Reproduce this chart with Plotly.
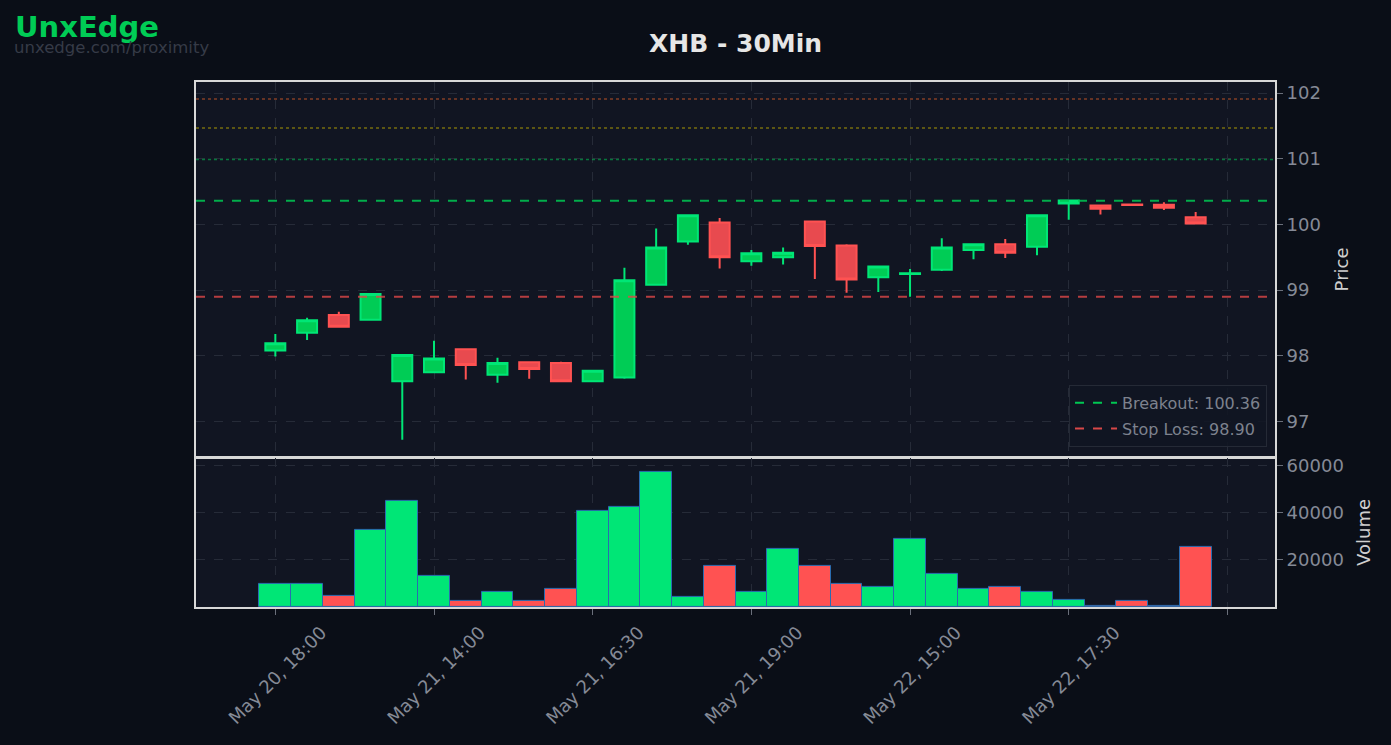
import plotly.graph_objects as go

# ---------------- data ----------------
TIMES = [
    "May 20, 18:00", "May 20, 18:30", "May 20, 19:00", "May 20, 19:30",
    "May 21, 13:30", "May 21, 14:00", "May 21, 14:30", "May 21, 15:00",
    "May 21, 15:30", "May 21, 16:00", "May 21, 16:30", "May 21, 17:00",
    "May 21, 17:30", "May 21, 18:00", "May 21, 18:30", "May 21, 19:00",
    "May 21, 19:30", "May 22, 13:30", "May 22, 14:00", "May 22, 14:30",
    "May 22, 15:00", "May 22, 15:30", "May 22, 16:00", "May 22, 16:30",
    "May 22, 17:00", "May 22, 17:30", "May 22, 18:00", "May 22, 18:30",
    "May 22, 19:00", "May 22, 19:30",
]
OPEN = [98.08, 98.35, 98.62, 98.55, 97.61, 97.75, 98.10, 97.71, 97.90, 97.89,
        97.61, 97.67, 99.08, 99.74, 100.03, 99.44, 99.50, 100.045, 99.68, 99.195,
        99.245, 99.31, 99.61, 99.70, 99.66, 100.32, 100.29, 100.305, 100.30, 100.11]
HIGH = [98.33, 98.58, 98.67, 98.94, 98.01, 98.23, 98.10, 97.97, 97.91, 97.91,
        97.77, 99.34, 99.94, 100.14, 100.10, 99.61, 99.65, 100.045, 99.70, 99.36,
        99.32, 99.79, 99.70, 99.78, 100.14, 100.365, 100.29, 100.315, 100.34, 100.19]
LOW = [97.99, 98.24, 98.44, 98.55, 96.72, 97.75, 97.64, 97.59, 97.65, 97.61,
       97.61, 97.65, 99.08, 99.69, 99.33, 99.37, 99.39, 99.17, 98.96, 98.97,
       98.90, 99.29, 99.47, 99.49, 99.53, 100.07, 100.15, 100.29, 100.22, 100.015]
CLOSE = [98.19, 98.54, 98.44, 98.94, 98.01, 97.96, 97.86, 97.89, 97.80, 97.61,
         97.77, 99.15, 99.65, 100.14, 99.50, 99.56, 99.57, 99.67, 99.16, 99.36,
         99.255, 99.65, 99.70, 99.57, 100.14, 100.365, 100.24, 100.295, 100.255, 100.015]
VOLUME = [10000, 9600, 4900, 32900, 45200, 13000, 2800, 6200, 2700, 7500,
          40900, 42600, 57500, 4300, 17600, 6600, 24700, 17600, 9800, 8700,
          29100, 14200, 7500, 8700, 6600, 3200, 600, 2800, 500, 25700]

TICK_POS = [0, 5, 10, 15, 20, 25, 30]
TICK_LABELS = ["May 20, 18:00", "May 21, 14:00", "May 21, 16:30", "May 21, 19:00",
               "May 22, 15:00", "May 22, 17:30", ""]
VOL_TICKS = [20000, 40000, 60000]

BREAKOUT = 100.36
STOP_LOSS = 98.90
TARGETS = [100.99, 101.47, 101.91]

TITLE = "XHB - 30Min"

# ---------------- styles ----------------
PAPER_BG = "#0a0e17"
PLOT_BG = "#111522"
GRID = "#262b38"
AXIS_LINE = "#d8d8d8"
TICK_COLOR = "#858a96"
UP_LINE, UP_FILL = "#00e676", "#00cc55"
DN_LINE, DN_FILL = "#ff5252", "#e84a4f"
FONT = "DejaVu Sans"

x = list(range(len(TIMES)))
vol_colors = [UP_LINE if c >= o else DN_LINE for o, c in zip(OPEN, CLOSE)]

fig = go.Figure()

fig.add_trace(go.Candlestick(
    x=x, open=OPEN, high=HIGH, low=LOW, close=CLOSE,
    text=TIMES, hoverinfo="text+y",
    increasing=dict(line=dict(color=UP_LINE, width=2), fillcolor=UP_FILL),
    decreasing=dict(line=dict(color=DN_LINE, width=2), fillcolor=DN_FILL),
    showlegend=False, xaxis="x", yaxis="y",
))

fig.add_trace(go.Bar(
    x=x, y=VOLUME, marker=dict(color=vol_colors, line=dict(color="#2a6cb0", width=1)),
    showlegend=False, xaxis="x2", yaxis="y2",
))

# legend-only entries
fig.add_trace(go.Scatter(x=[None], y=[None], mode="lines", legendgroup="b",
                         line=dict(color="#00c853", width=2, dash="dash"),
                         name=f"Breakout: {BREAKOUT:.2f}", xaxis="x", yaxis="y"))
fig.add_trace(go.Scatter(x=[None], y=[None], mode="lines", legendgroup="s",
                         line=dict(color="#d84848", width=2, dash="dash"),
                         name=f"Stop Loss: {STOP_LOSS:.2f}", xaxis="x", yaxis="y"))

# horizontal level lines
fig.add_shape(type="line", xref="x domain", yref="y", x0=0, x1=1, y0=BREAKOUT, y1=BREAKOUT,
              line=dict(color="#00c853", width=2, dash="dash"), opacity=0.85)
fig.add_shape(type="line", xref="x domain", yref="y", x0=0, x1=1, y0=STOP_LOSS, y1=STOP_LOSS,
              line=dict(color="#e04848", width=2, dash="dash"), opacity=0.8)
for lvl, col in zip(TARGETS, ["#00c853", "#c8b400", "#e0602a"]):
    fig.add_shape(type="line", xref="x domain", yref="y", x0=0, x1=1, y0=lvl, y1=lvl,
                  line=dict(color=col, width=1.5, dash="dot"), opacity=0.55)

axis_common = dict(
    showgrid=True, gridcolor=GRID, griddash="dash", gridwidth=1,
    showline=True, linecolor=AXIS_LINE, linewidth=2, mirror=True,
    zeroline=False,
    tickfont=dict(color=TICK_COLOR, size=18, family=FONT),
    ticks="outside", tickcolor="#6a6f7a", ticklen=6,
)

XRANGE = [-2.5, 31.5]

fig.update_layout(
    width=1391, height=745,
    paper_bgcolor=PAPER_BG, plot_bgcolor=PLOT_BG,
    margin=dict(l=196, r=116, t=82, b=138),
    font=dict(family=FONT, color=TICK_COLOR),
    title=dict(text=f"<b>{TITLE}</b>", x=0.5, xref="paper", xanchor="center",
               y=0.942, yref="container", yanchor="middle",
               font=dict(size=25, color="#e6e6e6", family=FONT)),
    xaxis=dict(axis_common, domain=[0, 1], anchor="y", range=XRANGE,
               tickvals=TICK_POS, ticktext=[""] * len(TICK_POS), ticks="",
               rangeslider=dict(visible=False)),
    yaxis=dict(axis_common, domain=[0.286, 1], anchor="x", side="right",
               range=[96.46, 102.17], dtick=1,
               title=dict(text="Price", font=dict(size=18, color="#cfcfcf", family=FONT))),
    xaxis2=dict(axis_common, domain=[0, 1], anchor="y2", range=XRANGE, matches="x",
                tickvals=TICK_POS, ticktext=TICK_LABELS, tickangle=-45,
                ticklabelshift=46),
    yaxis2=dict(axis_common, domain=[0, 0.284], anchor="x2", side="right",
                range=[0, max(VOLUME) * 1.1], tickvals=VOL_TICKS, tickformat="d",
                title=dict(text="Volume", font=dict(size=18, color="#cfcfcf", family=FONT))),
    bargap=0,
    boxgap=0.37, boxgroupgap=0,
    legend=dict(x=0.9926, xanchor="right", y=0.305, yanchor="bottom",
                bgcolor="rgba(17,21,34,0.85)", bordercolor="#252a36", borderwidth=1,
                tracegroupgap=2, itemwidth=42,
                font=dict(size=16, color="#7d828e", family=FONT)),
    showlegend=True,
)

fig.add_annotation(text="<b>UnxEdge</b>", xref="paper", yref="paper",
                   x=-196 / 1079 + 13 / 1079, y=1 + (82 - 27) / 525,
                   xanchor="left", yanchor="middle", showarrow=False,
                   font=dict(size=29, color="#00cc55", family=FONT))
fig.add_annotation(text="unxedge.com/proximity", xref="paper", yref="paper",
                   x=-196 / 1079 + 12 / 1079, y=1 + (82 - 48) / 525,
                   xanchor="left", yanchor="middle", showarrow=False,
                   font=dict(size=16.5, color="#363b47", family=FONT))

fig.write_html("out.html")
